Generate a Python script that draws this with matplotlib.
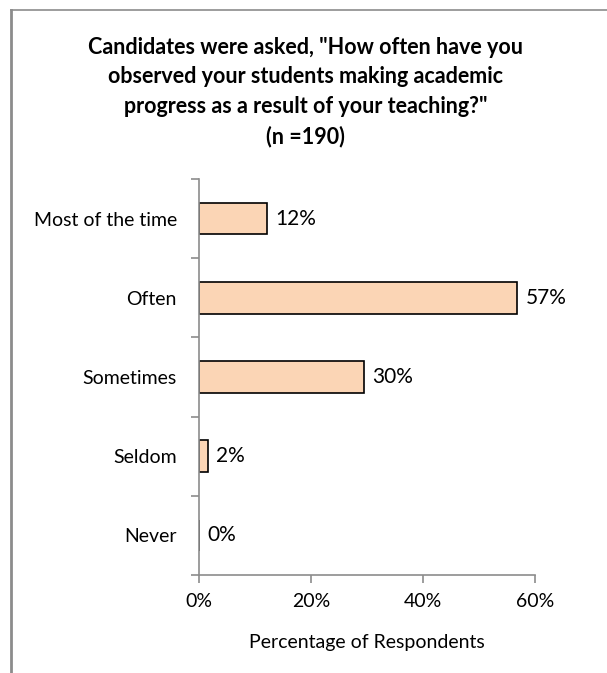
import matplotlib.pyplot as plt
from matplotlib.lines import Line2D
from matplotlib.ticker import FuncFormatter, FixedLocator

plt.rcParams['font.family'] = ['Lato', 'DejaVu Sans']

categories = ["Most of the time", "Often", "Sometimes", "Seldom", "Never"]
values = [12.1, 56.8, 29.5, 1.6, 0.0]
labels = ["12%", "57%", "30%", "2%", "0%"]
xticks = [0, 20, 40, 60]

fig = plt.figure(figsize=(6.07, 6.73), dpi=100)
ax = fig.add_axes([199/607, 1-575/673, 336/607, 396/673])

# outer chart border (top and left visible)
fig.add_artist(Line2D([11/607, 1.0], [1-10/673, 1-10/673], color='#8c8c8c', lw=1.2, transform=fig.transFigure))
fig.add_artist(Line2D([11/607, 11/607], [1-10/673, 0.0], color='#8c8c8c', lw=2, transform=fig.transFigure))

ypos = list(range(len(categories)))[::-1]
ax.barh(ypos, values, height=0.4, color='#FBD5B5', edgecolor='black', linewidth=1.2)

for y, v, t in zip(ypos, values, labels):
    ax.annotate(t, (v, y), xytext=(6, 0), textcoords='offset points',
                va='center', ha='left', fontsize=15, color='black')

ax.set_xlim(0, 60)
ax.set_ylim(-0.5, 4.5)
ax.set_xticks(xticks)
ax.xaxis.set_major_formatter(FuncFormatter(lambda x, p: "%d%%" % x))
ax.set_yticks(ypos)
ax.set_yticklabels(categories)
ax.yaxis.set_minor_locator(FixedLocator([-0.5, 0.5, 1.5, 2.5, 3.5, 4.5]))
ax.tick_params(axis='y', which='major', length=0, pad=16, labelsize=14)
ax.tick_params(axis='y', which='minor', length=6, color='#8c8c8c', width=1.2)
ax.tick_params(axis='x', length=6, color='#8c8c8c', width=1.2, labelsize=14, pad=7)

for s in ['top', 'right']:
    ax.spines[s].set_visible(False)
for s in ['left', 'bottom']:
    ax.spines[s].set_color('#8c8c8c')
    ax.spines[s].set_linewidth(1.2)

ax.set_xlabel("Percentage of Respondents", fontsize=14, labelpad=17)

fig.text(0.503, 1-92/673, 'Candidates were asked, "How often have you\nobserved your students making academic\nprogress as a result of your teaching?"\n(n =190)',
         ha='center', va='center', fontsize=15.5, fontweight='bold', linespacing=1.5)

fig.savefig("out.png", dpi=100)
